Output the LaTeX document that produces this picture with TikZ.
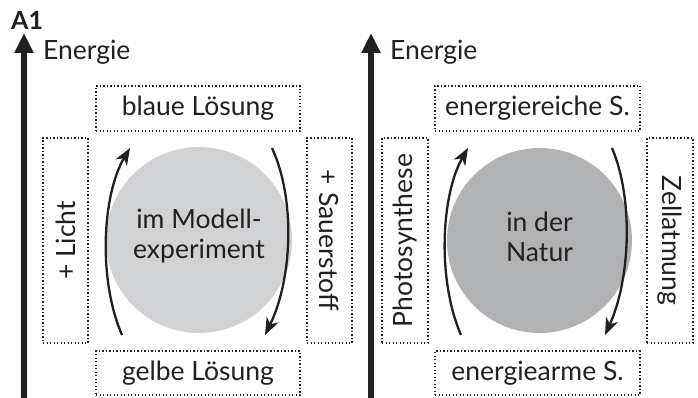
\documentclass[tikz,border=0pt]{standalone}
\usepackage{fontspec}
\setmainfont{Lato}
\usetikzlibrary{arrows.meta}
\definecolor{ink}{HTML}{231F20}
\definecolor{lightdisc}{HTML}{D1D2D4}
\definecolor{darkdisc}{HTML}{B1B2B4}
\begin{document}
\begin{tikzpicture}[x=1pt,y=-1pt,
  txt/.style={text=ink,font=\fontsize{26.5}{31}\selectfont,inner sep=0pt},
  dotbox/.style={draw=ink,line width=1.3pt,dash pattern=on 1.3pt off 2.2pt,inner sep=0pt},
  energyaxis/.style={draw=ink,line width=6pt,-{Triangle[length=20pt,width=18pt]}},
  cycle/.style={draw=ink,line width=2.3pt,-{Stealth[length=17pt,width=13pt,inset=5pt]}},
  disctext/.style={txt,align=center}]
\useasboundingbox (0,0) rectangle (698,398);

% heading
\node[text=ink,font=\fontsize{25}{28}\selectfont\bfseries,anchor=west,inner sep=0pt] (head) at (11,20) {A1};

% ---------- left panel: model experiment ----------
\coordinate (axL0) at (24,398);
\coordinate (axL1) at (24,33);
\draw[energyaxis] (axL0) -- (axL1);
\node[txt,anchor=west] (enL) at (43,52) {Energie};

\fill[lightdisc] (199,240) circle (93);
\node[disctext] (discL) at (199,236) {im Modell-\\[-1pt]experiment};

\node[dotbox,minimum width=204,minimum height=45] (topL) at (198,108.5) {};
\node[txt] at (topL) {blaue Lösung};
\node[dotbox,minimum width=204,minimum height=44] (botL) at (198,373) {};
\node[txt] at (botL) {gelbe Lösung};
\node[dotbox,minimum width=45,minimum height=205] (leftL) at (65.5,240.5) {};
\node[txt,rotate=90] at (leftL) {+ Licht};
\node[dotbox,minimum width=45,minimum height=205] (rightL) at (329.5,240.5) {};
\node[txt,rotate=-90] at (rightL) {+ Sauerstoff};

\coordinate (aL1) at (122,335);
\coordinate (aL2) at (130,148);
\coordinate (aL3) at (272,148);
\coordinate (aL4) at (265,335);
\draw[cycle] (aL1) .. controls (98,280) and (102,195) .. (aL2);
\draw[cycle] (aL3) .. controls (296,200) and (292,280) .. (aL4);

% ---------- right panel: nature ----------
\coordinate (axR0) at (371,398);
\coordinate (axR1) at (371,33);
\draw[energyaxis] (axR0) -- (axR1);
\node[txt,anchor=west] (enR) at (390,52) {Energie};

\fill[darkdisc] (539.5,240.5) circle (92.5);
\node[disctext] (discR) at (539.5,237) {in der\\[-1pt]Natur};

\node[dotbox,minimum width=205,minimum height=45] (topR) at (537.5,108.5) {};
\node[txt] at (topR) {energiereiche S.};
\node[dotbox,minimum width=205,minimum height=44] (botR) at (537.5,373) {};
\node[txt] at (botR) {energiearme S.};
\node[dotbox,minimum width=46,minimum height=205] (leftR) at (405,240.5) {};
\node[txt,rotate=90] at (leftR) {Photosynthese};
\node[dotbox,minimum width=46,minimum height=205] (rightR) at (670,240.5) {};
\node[txt,rotate=-90] at (rightR) {Zellatmung};

\coordinate (aR1) at (461,335);
\coordinate (aR2) at (468,148);
\coordinate (aR3) at (612,148);
\coordinate (aR4) at (605,335);
\draw[cycle] (aR1) .. controls (437,280) and (441,195) .. (aR2);
\draw[cycle] (aR3) .. controls (634,200) and (630,280) .. (aR4);
\end{tikzpicture}
\end{document}
